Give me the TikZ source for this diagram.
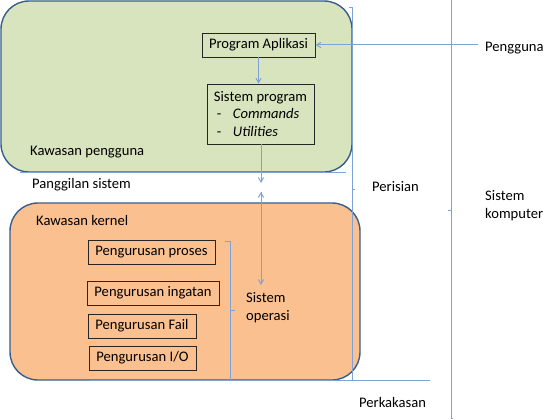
\documentclass[tikz,border=0pt]{standalone}
\usepackage{fontspec}
\setmainfont{Carlito}
\usepackage{tikz}
\usetikzlibrary{positioning,arrows}

\definecolor{zoneline}{HTML}{385D8A}
\definecolor{userfill}{HTML}{D7E4BD}
\definecolor{kernfill}{HTML}{FAC090}
\definecolor{linkblue}{HTML}{7FA2D6}

\tikzset{
  zone/.style={draw=zoneline, line width=1.4pt, rounded corners=28pt, inner sep=0pt},
  box/.style={draw=black!85, line width=0.8pt, minimum height=24pt, inner xsep=5pt, inner ysep=2pt},
  lbl/.style={inner sep=0pt, anchor=west},
  link/.style={draw=linkblue, line width=1pt},
}

\begin{document}
\begin{tikzpicture}[x=1pt, y=-1pt, >=angle 60,
    every node/.style={font=\fontsize{14.6pt}{17.8pt}\selectfont}]
		\useasboundingbox (0,0) rectangle (554,420);

		% the two regions
		\node[zone, fill=userfill, minimum width=351pt, minimum height=171pt](userzone) at (176.5,86.5) {};
		\node[zone, fill=kernfill, minimum width=350pt, minimum height=177pt](kernzone) at (185,291.5) {};

		% user space
		\node[box, fill=userfill, minimum width=113pt](aplikasi) at (258.5,45) {Program Aplikasi};
		\node[box, fill=userfill, align=left, minimum width=107pt, minimum height=60pt](sysprog) at (260.5,114)
			{Sistem program\\\hspace*{3pt}\makebox[16pt][l]{-}\textit{Commands}\\\hspace*{3pt}\makebox[16pt][l]{-}\textit{Utilities}};
		\node[lbl](userlbl) at (30,152) {Kawasan pengguna};
		\node[lbl](calllbl) at (32,185) {Panggilan sistem};

		% kernel space
		\node[lbl](kernlbl) at (36,220) {Kawasan kernel};
		\node[box, fill=kernfill, minimum width=127pt](proses) at (151.5,252) {Pengurusan proses};
		\node[box, fill=kernfill, minimum width=132pt](ingatan) at (153,293) {Pengurusan ingatan};
		\node[box, fill=kernfill, minimum width=108pt](fail) at (142,326) {Pengurusan Fail};
		\node[box, fill=kernfill, minimum width=107pt](io) at (142.5,358) {Pengurusan I/O};
		\node[lbl, align=left](oslbl) at (246,307.5) {Sistem\\operasi};

		% outer labels
		\node[lbl](pengguna) at (485,48) {Pengguna};
		\node[lbl](perisian) at (372,187) {Perisian};
		\node[lbl, align=left](komputer) at (485,206) {Sistem\\komputer};
		\node[lbl](perkakasan) at (359,402) {Perkakasan};

		\coordinate (callend) at (261,183);
		\coordinate (osstart) at (261,192);
		\coordinate (osend) at (261,285);

		% boundaries and brackets
		\draw[link] (20,172) -- (346,172);
		\draw[link] (90,380) -- (430,380);
		\draw[link] (225,241) -- (230,241) -- (230,380);
		\draw[link] (230,310) -- (235,310);
		\draw[link] (349,8) -- (352,8) -- (352,380);
		\draw[link] (352,189) -- (355,189);
		\draw[link] (451,0) -- (451,418) -- (453,418);
		\draw[link] (451,210) -- (448,210);

		% flow
		\path[link,->]
		([xshift=-7pt]pengguna.west |- aplikasi.east) edge (aplikasi.east)
		(aplikasi.south) edge (aplikasi.south |- sysprog.north)
		(sysprog.south -| callend) edge (callend)
		(osstart) edge (osend);
	\end{tikzpicture}
\end{document}
